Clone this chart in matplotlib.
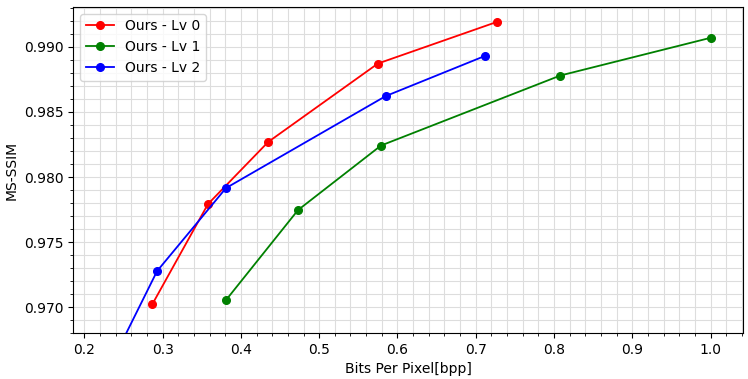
import matplotlib
matplotlib.use("Agg")
import matplotlib.pyplot as plt
from matplotlib.ticker import MultipleLocator

# bpp / MS-SSIM pairs
lv0_bpp = [0.287, 0.358, 0.435, 0.575, 0.727]
lv0_ssim = [0.97023, 0.97792, 0.98270, 0.98872, 0.99192]

lv1_bpp = [0.381, 0.473, 0.579, 0.808, 1.000]
lv1_ssim = [0.97054, 0.97746, 0.98242, 0.98780, 0.99070]

lv2_bpp = [0.235, 0.293, 0.381, 0.585, 0.7115]
lv2_ssim = [0.96574, 0.97277, 0.97915, 0.98622, 0.98930]

labels = ["Ours - Lv 0", "Ours - Lv 1", "Ours - Lv 2"]

fig, ax = plt.subplots(figsize=(7.48, 3.79), dpi=100)

ax.plot(lv0_bpp, lv0_ssim, color="red", marker="o", ms=5.5, lw=1.3, label=labels[0])
ax.plot(lv1_bpp, lv1_ssim, color="green", marker="o", ms=5.5, lw=1.3, label=labels[1])
ax.plot(lv2_bpp, lv2_ssim, color="blue", marker="o", ms=5.5, lw=1.3, label=labels[2])

ax.set_xlim(0.186, 1.041)
ax.set_ylim(0.968, 0.99308)

ax.xaxis.set_major_locator(MultipleLocator(0.1))
ax.xaxis.set_minor_locator(MultipleLocator(0.02))
ax.yaxis.set_major_locator(MultipleLocator(0.005))
ax.yaxis.set_minor_locator(MultipleLocator(0.001))
ax.grid(which="both", color="#dddddd", lw=0.8)
ax.set_axisbelow(True)

ax.tick_params(labelsize=10)
ax.set_xlabel("Bits Per Pixel[bpp]", fontsize=10)
ax.set_ylabel("MS-SSIM", fontsize=10)
ax.legend(loc="upper left", fontsize=10)

fig.subplots_adjust(left=0.098, right=0.993, top=0.982, bottom=0.121)
fig.savefig("out.png", dpi=100)
